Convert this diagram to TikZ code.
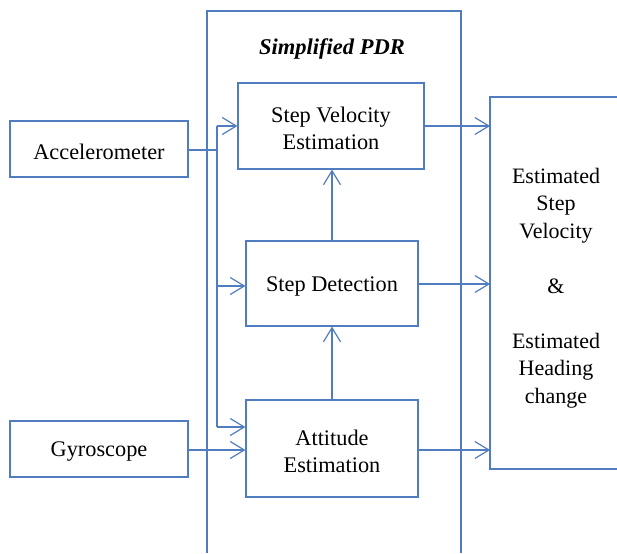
\documentclass[tikz,border=0pt]{standalone}
\usepackage{fontspec}
\setmainfont{Liberation Serif}
\usetikzlibrary{arrows.meta}
\definecolor{ln}{RGB}{79,125,192}
\begin{document}
\begin{tikzpicture}[x=1pt,y=-1pt,
  box/.style={draw=ln,line width=1.2pt,inner sep=0pt,align=center,font=\fontsize{22.3}{27}\selectfont},
  txt/.style={align=center,font=\fontsize{22.3}{27}\selectfont,inner sep=0pt},
  arr/.style={draw=ln,line width=1.2pt,-{Straight Barb[length=14pt,width=17pt,line width=1.2pt]}},
  ln/.style={draw=ln,line width=1.2pt}]
\useasboundingbox (0,0) rectangle (617,553);
% big PDR frame (open at bottom)
\draw[ln] (207,553) -- (207,11) -- (461,11) -- (461,553);
\node[font=\fontsize{22.5}{27}\selectfont\bfseries\itshape] (title) at (332,49) {Simplified PDR};
% output box (open at right)
\draw[ln] (624,97) -- (490,97) -- (490,469) -- (624,469);
\node[align=center,font=\fontsize{22}{27.5}\selectfont] (out) at (556,288) {Estimated\\Step\\Velocity\\[27.5pt]\&\\[27.5pt]Estimated\\Heading\\change};
\coordinate (oin1) at (490,126);
\coordinate (oin2) at (490,284);
\coordinate (oin3) at (490,450);
% sensors
\node[box,minimum width=178pt,minimum height=56pt] (acc) at (99,149) {};
\node[txt] (acct) at (99,151.5) {Accelerometer};
\node[box,minimum width=178pt,minimum height=56pt] (gyr) at (99,449) {};
\node[txt] (gyrt) at (99,451.5) {Gyroscope};
% PDR blocks
\node[box,minimum width=186pt,minimum height=86pt] (svel) at (331,126) {};
\node[txt] (svelt) at (331,128.5) {Step Velocity\\Estimation};
\node[box,minimum width=172pt,minimum height=85pt] (sdet) at (332,283.5) {};
\node[txt] (sdett) at (332,286.5) {Step Detection};
\node[box,minimum width=172pt,minimum height=97pt] (att) at (332,448.5) {};
\node[txt] (attt) at (332,451.5) {Attitude\\Estimation};
% bus
\coordinate (b0) at (217,150);
\coordinate (b1) at (217,126);
\coordinate (b2) at (217,286);
\coordinate (b3) at (217,427);
\draw[ln] (acc.east |- b0) -- (b0);
\draw[ln] (b1) -- (b3);
\draw[arr] (b1) -- (svel.west |- b1);
\draw[arr] (b2) -- (sdet.west |- b2);
\draw[arr] (b3) -- (att.west |- b3);
\draw[arr] (gyr.east |- oin3) -- (att.west |- oin3);
% vertical
\draw[arr] (att.north) -- (sdet.south);
\draw[arr] (sdet.north) -- (svel.south -| sdet.north);
% outputs
\draw[arr] (svel.east |- oin1) -- (oin1);
\draw[arr] (sdet.east |- oin2) -- (oin2);
\draw[arr] (att.east |- oin3) -- (oin3);
\end{tikzpicture}
\end{document}
